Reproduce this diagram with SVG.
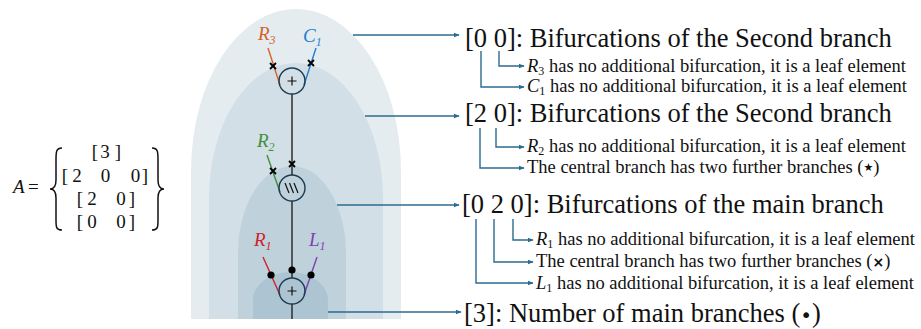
<svg xmlns="http://www.w3.org/2000/svg" width="921" height="329" viewBox="0 0 921 329">
<defs>
<marker id="ah" viewBox="0 0 10 10" refX="9" refY="5" markerWidth="6" markerHeight="6" markerUnits="userSpaceOnUse" orient="auto">
<path d="M0,1 L10,5 L0,9 Z" fill="#2b6b8f"/>
</marker>
<style>
.serif{font-family:"Liberation Serif","Times New Roman",serif;fill:#111}
.hdr{font-size:26.5px}
.sub{font-size:18.5px}
.it{font-style:italic}
.arr{stroke:#2b6b8f;stroke-width:1.4;fill:none;marker-end:url(#ah)}
.wire{stroke:#222;stroke-width:1.4;fill:none}
.node{fill:none;stroke:#1d3b52;stroke-width:1.4}
.sym{stroke:#111;stroke-width:1.2;fill:none}
.cross{stroke:#000;stroke-width:1.8;fill:none}
.lbl{font-family:"Liberation Serif","Times New Roman",serif;font-style:italic;font-size:19px}
.sb{font-size:12px}
</style>
</defs>

<!-- matrix -->
<g id="matrix" class="serif">
<text x="13" y="193" font-size="19" font-style="italic">A</text>
<text x="28" y="193" font-size="19">=</text>
<path d="M62,148 C56,148 56,152 56,160 L56,180 C56,186 54,189 50,189 C54,189 56,192 56,198 L56,220 C56,227 56,230 62,230" stroke="#111" stroke-width="1.5" fill="none"/>
<path d="M152,148 C158,148 158,152 158,160 L158,180 C158,186 160,189 164,189 C160,189 158,192 158,198 L158,220 C158,227 158,230 152,230" stroke="#111" stroke-width="1.5" fill="none"/>
<g font-size="19" text-anchor="middle">
<text x="95" y="158">[</text><text x="105" y="158">3</text><text x="118" y="158">]</text>
<text x="65" y="182">[</text><text x="77" y="182">2</text><text x="105.5" y="182">0</text><text x="135.5" y="182">0</text><text x="145" y="182">]</text>
<text x="80" y="205">[</text><text x="92" y="205">2</text><text x="121" y="205">0</text><text x="132" y="205">]</text>
<text x="80" y="228">[</text><text x="92" y="228">0</text><text x="121" y="228">0</text><text x="132" y="228">]</text>
</g>
</g>

<!-- background levels -->
<g id="levels">
<path d="M191,319 L191,171 A105,162 0 0 1 401,171 L401,319 Z" fill="#e5ecf0"/>
<path d="M209,319 L209,198 A87,135 0 0 1 383,198 L383,319 Z" fill="#d2dfe6"/>
<path d="M238,319 L238,253 A54,87 0 0 1 346,253 L346,319 Z" fill="#bfd2dc"/>
<path d="M253,319 L253,300 A37.5,28 0 0 1 328,300 L328,319 Z" fill="#adc5d2"/>
</g>

<!-- connectors -->
<g id="connectors">
<line class="wire" x1="292" y1="94" x2="292" y2="175"/>
<line class="wire" x1="292" y1="201" x2="292" y2="278"/>
<line class="wire" x1="292" y1="304" x2="292" y2="319"/>
<line x1="268" y1="48" x2="280" y2="85" stroke="#d4622a" stroke-width="1.4"/>
<line x1="316" y1="48" x2="304" y2="85" stroke="#1f7fd0" stroke-width="1.4"/>
<line x1="267" y1="155" x2="280" y2="192" stroke="#3f8f3a" stroke-width="1.4"/>
<line x1="263" y1="257" x2="280" y2="295" stroke="#d01f2a" stroke-width="1.4"/>
<line x1="317" y1="257" x2="304" y2="295" stroke="#7d3fb0" stroke-width="1.4"/>
<!-- markers -->
<path class="cross" d="M270,63 l6,6 M276,63 l-6,6"/>
<path class="cross" d="M308,60 l6,6 M314,60 l-6,6"/>
<path class="cross" d="M289,161 l6,6 M295,161 l-6,6"/>
<path class="cross" d="M270,168 l6,6 M276,168 l-6,6"/>
<circle cx="271" cy="275" r="3.6" fill="#000"/>
<circle cx="292" cy="270" r="3.6" fill="#000"/>
<circle cx="311" cy="275" r="3.6" fill="#000"/>
<!-- level pointers -->
<line class="arr" x1="353" y1="35" x2="459" y2="35"/>
<line class="arr" x1="365" y1="116" x2="459" y2="116"/>
<line class="arr" x1="337" y1="205" x2="459" y2="205"/>
<line class="arr" x1="328" y1="312" x2="461" y2="312"/>
<!-- digit pointers -->
<path class="arr" d="M499,51 V66 H524"/>
<path class="arr" d="M481,51 V87 H524"/>
<path class="arr" d="M496,128 V147 H524"/>
<path class="arr" d="M480,128 V168 H524"/>
<path class="arr" d="M513,219 V240 H533"/>
<path class="arr" d="M494,219 V262 H533"/>
<path class="arr" d="M476,219 V283 H533"/>
</g>

<!-- nodes -->
<g id="node-top">
<circle class="node" cx="292" cy="81" r="13"/>
<path class="sym" d="M287.5,81 H296.5 M292,76.5 V85.5"/>
<text class="lbl" x="258" y="40" fill="#d4622a">R<tspan class="sb" dy="4">3</tspan></text>
<text class="lbl" x="303" y="42" fill="#1f7fd0">C<tspan class="sb" dy="4">1</tspan></text>
</g>
<g id="node-middle">
<circle class="node" cx="292" cy="188" r="13"/>
<path class="sym" d="M285,183 l4,10 M289.5,183 l4,10 M294,183 l4,10"/>
<text class="lbl" x="257" y="147" fill="#3f8f3a">R<tspan class="sb" dy="4">2</tspan></text>
</g>
<g id="node-bottom">
<circle class="node" cx="292" cy="291" r="13"/>
<path class="sym" d="M287.5,291 H296.5 M292,286.5 V295.5"/>
<text class="lbl" x="254" y="246" fill="#d01f2a">R<tspan class="sb" dy="4">1</tspan></text>
<text class="lbl" x="309" y="246" fill="#7d3fb0">L<tspan class="sb" dy="4">1</tspan></text>
</g>

<!-- descriptions -->
<g id="desc-00" class="serif">
<text class="hdr" x="465" y="47">[0 0]: Bifurcations of the Second branch</text>
<text class="sub" x="527" y="72"><tspan class="it">R</tspan><tspan class="sb" dy="3">3</tspan><tspan dy="-3"> has no additional bifurcation, it is a leaf element</tspan></text>
<text class="sub" x="527" y="92"><tspan class="it">C</tspan><tspan class="sb" dy="3">1</tspan><tspan dy="-3"> has no additional bifurcation, it is a leaf element</tspan></text>
</g>
<g id="desc-20" class="serif">
<text class="hdr" x="465" y="122">[2 0]: Bifurcations of the Second branch</text>
<text class="sub" x="527" y="152"><tspan class="it">R</tspan><tspan class="sb" dy="3">2</tspan><tspan dy="-3"> has no additional bifurcation, it is a leaf element</tspan></text>
<text class="sub" x="527" y="173">The central branch has two further branches (<tspan font-size="11" dy="-2" font-family="DejaVu Sans,sans-serif">★</tspan><tspan dy="2">)</tspan></text>
</g>
<g id="desc-020" class="serif">
<text class="hdr" x="462" y="213">[0 2 0]: Bifurcations of the main branch</text>
<text class="sub" x="536" y="245"><tspan class="it">R</tspan><tspan class="sb" dy="3">1</tspan><tspan dy="-3"> has no additional bifurcation, it is a leaf element</tspan></text>
<text class="sub" x="536" y="267">The central branch has two further branches (<tspan font-weight="bold" font-family="DejaVu Sans,sans-serif" font-size="14">×</tspan>)</text>
<text class="sub" x="536" y="289"><tspan class="it">L</tspan><tspan class="sb" dy="3">1</tspan><tspan dy="-3"> has no additional bifurcation, it is a leaf element</tspan></text>
</g>
<g id="desc-3" class="serif">
<text class="hdr" x="464" y="322">[3]: Number of main branches (<tspan font-family="DejaVu Sans,sans-serif" font-size="20">•</tspan>)</text>
</g>
</svg>
